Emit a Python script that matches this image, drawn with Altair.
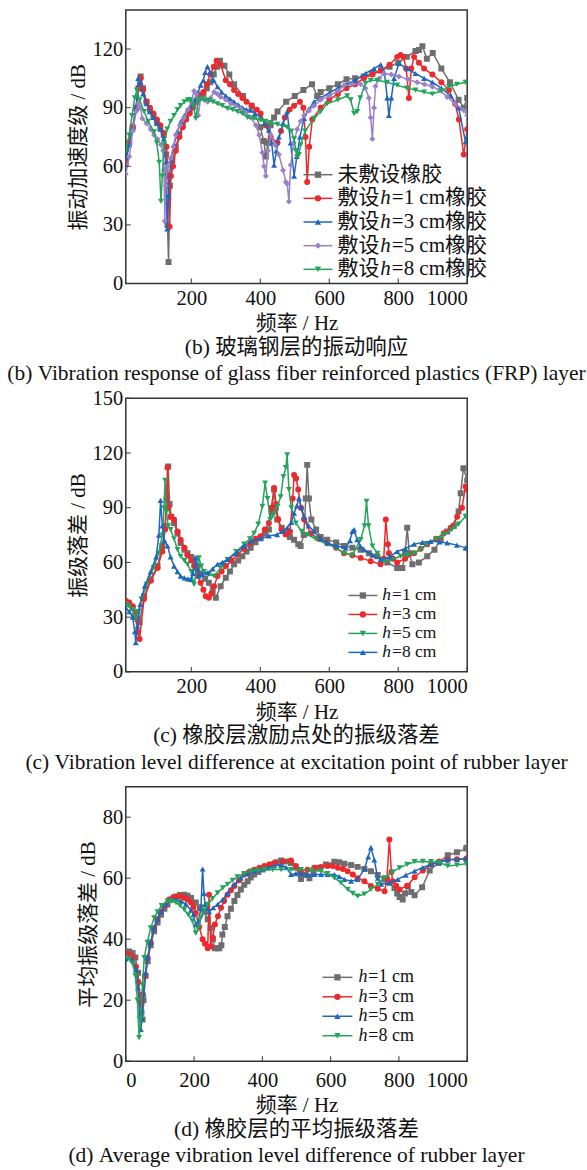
import altair as alt
import pandas as pd

# ---------------- data ----------------
# Panel (b): vibration response of FRP layer
B_NAMES = ["未敷设橡胶", "敷设h=1 cm橡胶", "敷设h=3 cm橡胶", "敷设h=5 cm橡胶", "敷设h=8 cm橡胶"]
B_GRAY = [(10,62),(20,72),(30,80),(40,90),(47,100),(53,106),(60,100),(70,93),(80,89),(90,86),(100,83),(110,80),(120,76),(127,66),(131,30),(134,11),(138,50),(145,63),(155,70),(165,76),(175,81),(185,85),(195,88),(205,91),(215,93),(225,95),(235,97),(245,100),(255,103),(265,107),(275,111),(283,114),(296,111.5),(310,107),(324,102),(350,96),(375,91),(400,80),(410,73),(416,65),(422,72),(430,81),(440,85),(450,88),(475,93),(500,96),(525,99),(550,102),(565,96),(575,98),(600,100),(625,102),(650,104.5),(675,105),(700,106),(725,107.5),(750,109),(775,111),(800,113),(825,116),(850,119),(860,119.5),(870,121.5),(883,115),(900,118),(925,110),(950,103),(975,94),(990,90),(1000,95)]
B_H1 = [(10,63),(20,72),(30,80),(40,90),(47,100),(53,105),(60,99),(70,93),(80,90),(90,87),(100,84),(110,81),(120,77),(128,70),(133,55),(137,29),(141,55),(147,60),(155,68),(165,75),(175,80),(185,84),(195,87),(205,90),(215,93),(225,96),(235,98),(245,102),(255,107),(265,111),(273,114),(285,112),(300,104),(312,102),(324,99),(336,97),(348,95),(360,93),(375,91),(390,89),(401,87),(415,81),(430,75),(450,72),(460,78),(471,85),(485,89),(498,91),(515,93),(525,90),(531,75),(536,52),(542,70),(551,84),(575,90),(600,94),(625,97),(650,100),(675,102),(700,105),(725,107),(750,109),(775,112),(797,116),(807,117),(815,116),(823,110),(831,95),(838,110),(846,116),(860,113),(875,110),(899,107),(925,103),(947,99),(965,92),(976,84),(990,66),(1000,79)]
B_H3 = [(10,64),(20,71),(30,79),(40,90),(46,105),(52,103),(60,97),(70,92),(80,88),(90,85),(100,82),(110,79),(120,74),(126,62),(130,28),(134,45),(140,63),(150,71),(160,78),(170,83),(180,86),(190,89),(200,91),(210,94),(220,98),(227,101.5),(235,104),(240,108),(247,111),(255,108),(265,104),(276,100.7),(288,98),(300,96),(312,94.5),(324,93),(336,91.5),(348,90),(360,89),(372,88.7),(385,87),(401,85),(413,82),(425,78.5),(433,72),(440,60.6),(447,68),(454,75),(466,82),(478,88),(488,72),(498,55),(506,65),(515,75),(527,84.5),(540,89),(556,93),(575,95),(600,97.5),(625,100),(650,102),(675,104),(705,107.5),(730,110),(749,112),(760,108),(768,95),(773,86),(780,95),(788,105),(802,112.6),(825,110),(850,107.5),(875,105),(899,103),(925,100),(952,96),(975,90),(995,72.5),(1000,75)]
B_H5 = [(10,56),(20,65),(30,78),(40,88),(46,92),(52,90),(58,84.5),(70,82),(82,79),(92,76),(102,74),(112,71),(118,68),(121,58),(123,32),(126,50),(130,60),(140,64),(148,70),(155,76),(167,81),(179,85),(190,89),(200,93),(208,98.5),(215,97),(220,86),(227,94.5),(237,94),(247,93),(256,95),(266,98),(276,97),(285,95.5),(300,94),(315,92),(329,91),(343,89.6),(358,87.5),(372,85),(387,81),(397,76),(406,67),(411,60),(416,55),(422,68),(430,76),(442,71),(454,66),(466,58),(474,52),(478,51),(483,42),(488,60.6),(497,72),(507,79),(517,83),(527,86),(541,88.5),(556,91),(575,94),(600,96),(625,98.5),(643,101.5),(667,102),(691,102),(705,100),(715,95),(720,85),(725,74),(730,90),(734,101),(745,105),(758,107.5),(780,107),(802,106),(828,104.5),(855,103),(876,102),(899,100.7),(920,99),(942,95.5),(965,92),(990,88.7),(1000,86)]
B_H8 = [(10,68),(20,76),(28,86),(36,95),(42,99),(50,94),(63,88),(75,83),(92,77.6),(100,72),(107,62),(112,42),(116,55),(121,71),(130,79),(140,83),(150,86),(160,89),(169,91),(180,93),(190,94),(198,94),(206,91),(213,84.5),(220,93),(227,94.5),(239,94),(251,93.7),(263,93),(276,92),(290,91),(305,89.6),(320,89),(334,88),(348,87),(363,85),(382,84.5),(401,83.6),(415,83),(430,82.4),(450,81.5),(478,80),(490,78),(498,74),(503,68),(507,65),(512,66),(517,71),(530,78),(556,84.5),(575,88),(594,92),(625,94),(652,96),(662,94),(672,87),(681,88),(690,95),(705,102.5),(720,104),(739,104),(768,103),(797,101.5),(825,100),(850,99),(875,98),(899,97),(925,98.5),(947,100.7),(970,102),(995,103),(1000,103)]

# Panel (c): vibration level difference at excitation point
C_NAMES = ["h=1 cm", "h=3 cm", "h=5 cm", "h=8 cm"]
C_H1 = [(10,38),(20,37),(30,35),(38,32),(44,29),(50,27),(63,41.5),(82,50.7),(102,58),(116,69),(124,80),(129,95),(133,112.6),(137,92),(142,85),(150,81.6),(160,76),(169,70.7),(180,67),(189,65),(200,63),(208,61.6),(218,58),(227,54),(240,51),(251,48.8),(262,44),(271,40.6),(285,47),(300,51.6),(312,55),(324,59),(336,61),(348,63.4),(360,66),(372,68),(386,71),(401,73.4),(415,76),(425,78),(433,88),(440,100),(445,90),(449,83.5),(462,79),(474,76),(486,74),(498,72.5),(510,70),(517,69),(526,75),(532,95),(536,113.5),(541,95),(548,83.5),(562,78),(575,74),(594,72.5),(620,71),(643,69),(667,68),(691,67),(715,65),(739,63.4),(768,60),(797,57),(812,57),(820,65),(826,79),(832,65),(841,59),(860,60),(884,63.4),(905,67),(923,72.5),(942,77),(961,80),(975,88),(981,98),(989,111.7),(1000,105)]
C_H3 = [(10,39),(20,38),(30,36),(38,31),(44,22),(50,18),(63,40),(82,50),(102,57),(116,66),(124,78),(128,95),(131,112),(134,90),(140,85),(150,83.5),(160,77),(169,72.5),(180,68),(189,64),(200,61),(208,58),(218,53),(227,48.8),(235,45),(242,41.5),(251,40.6),(258,43),(266,47),(276,52.5),(288,55),(300,58),(317,61),(334,64.3),(353,67.5),(372,70.7),(386,73),(401,74.4),(413,78),(425,81.6),(432,90),(440,100.8),(446,92),(452,83.5),(462,78),(474,75.3),(486,77),(494,95),(498,108),(504,106),(510,100),(518,90),(527,83.5),(546,76),(570,73),(594,70.7),(620,68),(643,65),(667,64),(691,62.5),(720,60.7),(749,59),(758,62),(764,83.5),(770,70),(773,65),(785,62),(797,60),(820,62),(846,65),(865,67.5),(884,70),(910,73),(932,76),(952,79),(971,85),(985,90),(995,101.7),(1000,100)]
C_H5 = [(10,37),(20,36),(30,34),(39,30),(46,33),(55,40),(70,48),(90,57),(105,65),(116,75),(121,90),(124,105),(128,88),(133,80),(140,78),(150,73),(160,67),(169,63.4),(180,61),(189,59),(200,55),(208,48),(215,55),(222,62.5),(229,58),(237,55),(251,53.5),(266,52.5),(285,57),(305,61.6),(330,66),(353,70),(370,73),(382,76),(394,81),(406,90.7),(414,103.5),(421,95),(429,83.5),(438,86),(450,90.7),(459,96),(467,107),(474,112),(478,119),(483,100),(490,90),(503,81.6),(520,77),(536,75.3),(560,73),(594,70),(620,68),(643,65),(667,64),(691,72.5),(702,80),(708,93.5),(714,80),(725,69),(740,65),(758,60.7),(780,61.5),(807,63.4),(826,64),(846,65),(865,67),(884,70),(910,73),(932,75.3),(955,78),(975,81),(995,85.3),(1000,85)]
C_H8 = [(10,35),(20,33),(30,30),(36,22),(39,16),(44,25),(52,37),(65,47),(82,55),(98,63),(106,75),(111,94),(116,80),(122,72),(131,69),(140,63),(150,58),(160,55),(169,52.5),(180,51.5),(190,51),(198,50.7),(205,54),(213,62.5),(218,56),(222,52.5),(232,53.5),(247,54.3),(262,56.5),(276,59),(290,60),(305,61.6),(330,65),(353,69),(376,72),(401,73),(425,74.5),(449,75.3),(465,77),(478,79),(490,82),(498,87),(506,91),(512,95.3),(519,90),(527,85.3),(540,80),(556,77),(575,73),(594,70.7),(620,69),(648,68),(660,72),(667,77),(672,78),(681,72.5),(690,69),(701,67),(725,64),(749,61.6),(775,63),(797,66),(820,67.5),(846,70),(870,71),(894,71.6),(920,71.2),(942,70.7),(970,69.5),(995,68),(1000,68)]

# Panel (d): average vibration level difference of rubber layer
D_NAMES = ["h=1 cm", "h=3 cm", "h=5 cm", "h=8 cm"]
D_H1 = [(0,36),(10,36),(20,35.5),(28,34),(36,29),(41,20),(46,16),(49,13.7),(52,20),(58,28),(64,32.8),(73,38),(83,42.6),(93,45.5),(103,48),(113,50),(122,51.4),(135,53),(147,54),(159,54.5),(171,54.6),(181,54.2),(191,53.5),(205,52),(217,50.5),(230,49),(240,46.5),(249,43.7),(255,40),(261,37),(268,37),(274,37),(280,38),(283,41.5),(290,44),(298,47.5),(308,50),(318,52.5),(327,54.5),(337,56.3),(347,57.8),(357,59),(366,60.2),(376,61.2),(388,62),(401,62.8),(415,63.6),(430,64.5),(442,65.2),(455,65.8),(470,65.5),(484,65),(498,63.5),(513,59.7),(525,61),(538,60),(550,61.5),(562,63.4),(586,64.5),(611,65.4),(625,65.2),(640,64.7),(660,64.3),(679,63.7),(699,63),(718,62.3),(738,61),(758,59.6),(772,58.5),(787,56.8),(795,55),(802,53.8),(811,53),(818,55),(826,57.4),(836,55.5),(846,54.4),(868,57),(890,62.5),(916,65),(943,67.5),(970,68.5),(997,69.7),(1000,70)]
D_H3 = [(0,35.2),(10,35),(20,34),(30,31),(37,26),(42,20),(46,18.6),(50,22),(56,28),(64,34),(73,39),(83,43.7),(93,46.5),(103,49),(115,51),(127,53),(140,53.8),(152,54),(162,54),(171,53.5),(181,53),(191,52),(198,50.5),(205,48.6),(215,44),(225,40),(232,38.5),(240,37),(244,54.6),(249,37.7),(255,40.5),(261,44.8),(270,47.5),(279,50.3),(288,52.5),(298,54.6),(308,56),(318,57.4),(332,59.3),(347,61.2),(361,62),(376,62.8),(391,63.4),(406,64),(420,64.5),(435,65),(460,65.5),(484,65.8),(498,64),(513,62.3),(532,62.8),(552,63.4),(572,63.7),(591,64),(606,64),(621,63.4),(636,63),(650,62.3),(665,61.2),(679,60),(699,59),(718,57.4),(738,56.5),(758,55.7),(765,60),(772,72.7),(778,62),(782,59),(792,57.5),(802,56.3),(824,57.5),(846,60.3),(870,62.5),(894,64.5),(918,65.5),(943,66),(970,66.2),(997,66.4),(1000,66.5)]
D_H5 = [(0,33.5),(10,34),(20,33),(30,30),(36,24),(41,15),(44,10.4),(48,14),(52,22),(58,29),(64,34),(73,39),(83,43.7),(93,46.5),(103,49),(117,51.5),(132,53),(147,53),(161,52.5),(176,51.5),(191,49.5),(198,48),(205,44.8),(213,46),(220,50),(225,63),(229,55),(232,51.4),(238,50),(244,49),(256,50.3),(269,51.4),(284,53),(298,55),(318,58),(337,60),(357,61.5),(376,62.3),(396,63),(415,63.4),(435,64),(455,64.5),(470,63.5),(484,61.2),(498,61.5),(513,61.5),(533,61.2),(552,61.2),(572,61.2),(591,61.2),(611,61.2),(625,60.5),(640,59.6),(660,59),(679,59.6),(699,63),(710,67),(718,70),(728,66),(738,60),(748,58),(772,58.5),(797,59.6),(820,61),(846,62.3),(870,63.5),(894,64.5),(918,65.2),(943,66),(970,66.2),(997,66.4),(1000,66.5)]
D_H8 = [(0,34),(10,33.5),(20,32),(28,28),(34,20),(39,7.7),(44,14),(49,25),(54,34),(63,39),(73,43.7),(83,47),(93,49),(105,51),(122,52.5),(135,52.5),(147,52),(159,51),(171,49.7),(183,48),(195,46),(205,42),(212,43.5),(220,47),(230,49.5),(240,51.4),(254,53.3),(269,55.2),(284,56.8),(298,58),(313,59.3),(327,60.4),(347,61.5),(367,62.3),(386,62.6),(406,62.8),(430,62.8),(455,62.8),(484,62.8),(513,62.8),(543,62.6),(572,62.3),(591,61.5),(611,60.1),(630,58.5),(650,56.3),(665,55),(679,54.1),(699,54.8),(718,56.3),(738,58),(758,60.1),(780,62),(802,63.4),(824,64.5),(846,65.4),(870,65.5),(894,65.4),(918,65.2),(943,64),(970,64.3),(997,64.7),(1000,64.8)]

# axis tick values
B_XTICKS = [200, 400, 600, 800, 1000]
B_YTICKS = [0, 30, 60, 90, 120]
C_XTICKS = [200, 400, 600, 800, 1000]
C_YTICKS = [0, 30, 60, 90, 120, 150]
D_XTICKS = [0, 200, 400, 600, 800, 1000]
D_YTICKS = [0, 20, 40, 60, 80]

# ---------------- styling ----------------
GRAY, RED, BLUE, PURPLE, GREEN = "#6e6e6e", "#ec2a2d", "#1f66bd", "#9b82c6", "#22a55b"
SERIF = "Liberation Serif"
FONT = "Liberation Serif, Noto Sans CJK SC"
FS = 21
W = 342
ONE = pd.DataFrame({"k": [0]})


def legend_layers(entries, x_line0, x_line1, x_text, y0, dy, fs):
    out = []
    for i, (label, color, shape) in enumerate(entries):
        y = y0 + i * dy
        out.append(alt.Chart(ONE).mark_rule(color=color, strokeWidth=1.5).encode(
            x=alt.value(x_line0), x2=alt.value(x_line1), y=alt.value(y)))
        out.append(alt.Chart(ONE).mark_point(shape=shape, filled=True, size=40, opacity=1, color=color).encode(
            x=alt.value((x_line0 + x_line1) / 2), y=alt.value(y)))
        tx = x_text
        if "h=" in label:
            head, rest = label.split("h", 1)
            if head:
                out.append(alt.Chart(ONE).mark_text(text=head, align="left", baseline="middle", font=FONT,
                                                    fontSize=fs, color="#111").encode(
                    x=alt.value(tx), y=alt.value(y)))
                tx += fs * len(head) + 1
            out.append(alt.Chart(ONE).mark_text(text="h", align="left", baseline="middle", font=SERIF,
                                                fontStyle="italic", fontSize=fs, color="#111").encode(
                x=alt.value(tx), y=alt.value(y)))
            tx += fs * 0.5 + 1
            out.append(alt.Chart(ONE).mark_text(text=rest, align="left", baseline="middle", font=FONT,
                                                fontSize=fs, color="#111").encode(
                x=alt.value(tx), y=alt.value(y)))
        else:
            out.append(alt.Chart(ONE).mark_text(text=label, align="left", baseline="middle", font=FONT,
                                                fontSize=fs, color="#111").encode(
                x=alt.value(tx), y=alt.value(y)))
    return out


def panel(series, names, colors, shapes, xdom, xticks, ydom, yticks, ytitle, caption, H, leg, xpad=5):
    xs = alt.Scale(domain=xdom, nice=False, zero=False)
    ys = alt.Scale(domain=ydom, nice=False, zero=False)
    xax = alt.Axis(values=xticks, title="频率 / Hz", format="d", labelPadding=xpad)
    yax = alt.Axis(values=yticks, title=ytitle, format="d")
    layers = []
    for pts, name, color, shape in zip(series, names, colors, shapes):
        df = pd.DataFrame(pts, columns=["f", "v"])
        df["s"] = name
        base = alt.Chart(df)
        enc = dict(x=alt.X("f:Q", scale=xs, axis=xax), y=alt.Y("v:Q", scale=ys, axis=yax))
        layers.append(base.mark_line(color=color, strokeWidth=1.5, clip=True).encode(**enc))
        layers.append(base.mark_point(shape=shape, filled=True, size=36, opacity=1, color=color, clip=True)
                      .encode(**enc))
    # inward ticks
    layers.append(alt.Chart(pd.DataFrame({"f": xticks})).mark_rule(color="#333", strokeWidth=1).encode(
        x=alt.X("f:Q", scale=xs, axis=xax), y=alt.value(H), y2=alt.value(H - 5)))
    layers.append(alt.Chart(pd.DataFrame({"v": yticks})).mark_rule(color="#333", strokeWidth=1).encode(
        y=alt.Y("v:Q", scale=ys, axis=yax), x=alt.value(0), x2=alt.value(5)))
    entries = list(zip(names, colors, shapes))
    layers += legend_layers(entries, *leg)
    return alt.layer(*layers).properties(
        width=W, height=H,
        title=alt.TitleParams(text=caption, orient="bottom", anchor="middle", font=FONT, fontSize=21.5,
                              fontWeight="normal", lineHeight=26.5, offset=3, color="#111"))


pb = panel([B_GRAY, B_H1, B_H3, B_H5, B_H8], B_NAMES, [GRAY, RED, BLUE, PURPLE, GREEN],
           ["square", "circle", "triangle-up", "diamond", "triangle-down"],
           [10, 1000], B_XTICKS, [0, 140], B_YTICKS, "振动加速度级 / dB",
           ["(b) 玻璃钢层的振动响应", "(b) Vibration response of glass fiber reinforced plastics (FRP) layer"],
           274, (178, 207, 212, 165, 23.7, 21))
pc = panel([C_H1, C_H3, C_H5, C_H8], C_NAMES, [GRAY, RED, GREEN, BLUE],
           ["square", "circle", "triangle-down", "triangle-up"],
           [10, 1000], C_XTICKS, [0, 150], C_YTICKS, "振级落差 / dB",
           ["(c) 橡胶层激励点处的振级落差", "(c) Vibration level difference at excitation point of rubber layer"],
           274, (223, 252, 257, 197.5, 19, 17.5))
pd_ = panel([D_H1, D_H3, D_H5, D_H8], D_NAMES, [GRAY, RED, BLUE, GREEN],
            ["square", "circle", "triangle-up", "triangle-down"],
            [0, 1000], D_XTICKS, [0, 90], D_YTICKS, "平均振级落差 / dB",
            ["(d) 橡胶层的平均振级落差", "(d) Average vibration level difference of rubber layer"],
            275, (197, 227, 233, 191, 19.5, 18), xpad=9)

chart = alt.vconcat(pb, pc, pd_, spacing=115, bounds="flush").properties(
    padding={"left": 6, "top": 8, "right": 0, "bottom": 0}
).configure_view(stroke="#333", strokeWidth=1.5).configure_axis(
    domain=False, ticks=False, grid=False,
    labelFont=SERIF, labelFontSize=20.5, labelColor="#111", labelPadding=5,
    titleFont=FONT, titleFontSize=FS, titleFontWeight="normal", titleColor="#111",
).configure_axisY(labelPadding=3, titlePadding=4).configure_axisX(titlePadding=4)

chart.save("out.html", embed_options={"renderer": "svg", "actions": False})
